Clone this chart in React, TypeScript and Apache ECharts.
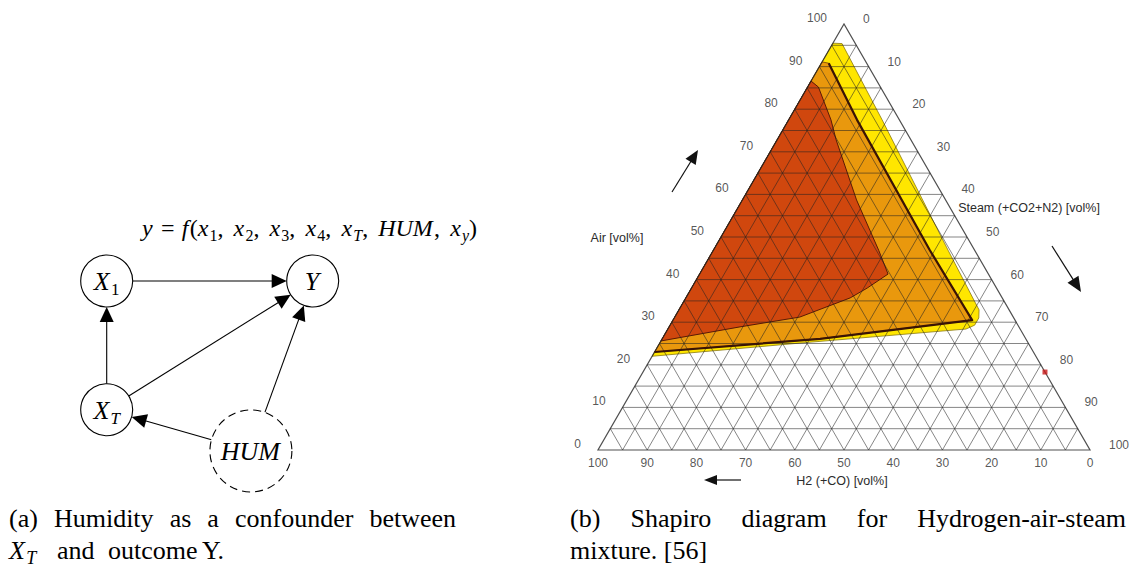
import React, { useEffect, useRef } from "react";
import * as echarts from "echarts";

const SERIF = "'Liberation Serif', 'Times New Roman', serif";
const SANS = "'Liberation Sans', Arial, sans-serif";

// ---------------- Panel (a): causal diagram (diagram units) ----------------
const dagNodes = [
  { id: "X1", x: 0, y: 0, dashed: false },
  { id: "Y", x: 4, y: 0, dashed: false },
  { id: "XT", x: 0, y: -2.5, dashed: false },
  { id: "HUM", x: 2.8, y: -3.3, dashed: true },
];
const dagEdges: [string, string][] = [
  ["X1", "Y"],
  ["XT", "X1"],
  ["XT", "Y"],
  ["HUM", "Y"],
  ["HUM", "XT"],
];
const nodeLabels: Record<string, [string, string][]> = {
  X1: [["X", "i"], ["1", "s"]],
  Y: [["Y", "i"]],
  XT: [["X", "i"], ["T", "si"]],
  HUM: [["HUM", "i"]],
};
const formulaTokens: [string, string][] = [
  ["y", "i"], ["=", "op"], ["f", "i"], ["(", "r"],
  ["x", "i"], ["1", "s"], [",", "c"],
  ["x", "i"], ["2", "s"], [",", "c"],
  ["x", "i"], ["3", "s"], [",", "c"],
  ["x", "i"], ["4", "s"], [",", "c"],
  ["x", "i"], ["T", "si"], [",", "c"],
  ["HUM", "i"], [",", "c"],
  ["x", "i"], ["y", "si"], [")", "r"],
];
const captionA1 = ["(a)", "Humidity", "as", "a", "confounder", "between"];
const captionA2 = ["and", "outcome", "Y."];
const captionB1 = ["(b)", "Shapiro", "diagram", "for", "Hydrogen-air-steam"];
const captionB2 = "mixture. [56]";

// ---------------- Panel (b): Shapiro ternary diagram ----------------
// points are [Air %, Steam %]; H2 = 100 - Air - Steam
const tickValues = [0, 10, 20, 30, 40, 50, 60, 70, 80, 90, 100];
const gridValues = [5, 10, 15, 20, 25, 30, 35, 40, 45, 50, 55, 60, 65, 70, 75, 80, 85, 90, 95];
const yellowRegion = [
  [95.5, 0], [95.4, 1.9], [77.5, 19.0], [46.9, 47.7], [35.2, 58.8], [32.9, 61.0],
  [31.0, 61.9], [29.3, 61.9], [28.4, 60.6], [25.1, 28.5], [22.0, 0],
];
const orangeRegion = [
  [91.1, 0], [90.8, 1.5], [77.5, 13.9], [46.9, 44.0], [30.5, 60.8], [26.1, 32.1], [23.0, 0],
];
const redRegion = [
  [86.6, 0], [85.2, 2.2], [77.5, 8.6], [72.8, 12.0], [58.7, 23.2], [46.9, 33.6], [41.3, 38.3],
  [38.0, 35.7], [35.7, 33.4], [31.2, 25.4], [28.9, 14.4], [25.6, 0],
];
const boundaryLine = [
  [90.8, 1.5], [77.5, 13.9], [46.9, 44.0], [30.5, 60.8], [26.1, 32.1], [23.0, 0],
];
const markerPoint = [18.3, 81.7];

const SQ = Math.sqrt(3) / 2;
const tern = (air: number, steam: number) => [steam / 100 + air / 200, (air / 100) * SQ];

export default function App() {
  const ref = useRef<HTMLDivElement>(null);
  useEffect(() => {
    document.body.style.margin = "0";
    const chart = echarts.init(ref.current!, undefined, { renderer: "svg" });
    const ctx = document.createElement("canvas").getContext("2d")!;

    const runMath = (toks: [string, string][], size: number, subSize: number, opSp = 0.28, commaSp = 0.17) => {
      let x = 0;
      const pieces: any[] = [];
      for (const [t, k] of toks) {
        const sub = k === "s" || k === "si";
        const italic = k === "i" || k === "si";
        const fs = sub ? subSize : size;
        const font = `${italic ? "italic " : ""}${fs}px ${SERIF}`;
        ctx.font = font;
        let pre = 0;
        let post = 0;
        if (k === "op") { pre = size * opSp; post = size * opSp; }
        if (k === "c") post = size * commaSp;
        x += pre;
        pieces.push({ t, font, fs, x, dy: sub ? size * 0.2 : 0 });
        x += ctx.measureText(t).width + post;
        if (italic && !sub) x += size * 0.05;
      }
      return { pieces, width: x };
    };
    const placeRun = (run: any, x0: number, baseline: number, fill = "#000") =>
      run.pieces.map((p: any) => ({
        type: "text",
        x: x0 + p.x,
        y: baseline + p.dy - 0.3 * p.fs,
        silent: true,
        style: { text: p.t, font: p.font, fill, align: "left", verticalAlign: "middle" },
      }));
    const textEl = (text: string, x: number, y: number, font: string, align = "left", fill = "#000") => ({
      type: "text", x, y, silent: true,
      style: { text, font, fill, align, verticalAlign: "middle" },
    });
    const justify = (words: string[], x0: number, x1: number, baseline: number, size: number) => {
      const font = `${size}px ${SERIF}`;
      ctx.font = font;
      const widths = words.map((w) => ctx.measureText(w).width);
      const total = widths.reduce((a, b) => a + b, 0);
      const gap = (x1 - x0 - total) / (words.length - 1);
      let x = x0;
      return words.map((w, i) => {
        const e = textEl(w, x, baseline - 0.3 * size, font);
        x += widths[i] + gap;
        return e;
      });
    };
    const arrow = (x1: number, y1: number, x2: number, y2: number, len: number, hw: number) => {
      const dx = x2 - x1, dy = y2 - y1, L = Math.hypot(dx, dy);
      const ux = dx / L, uy = dy / L;
      const bx = x2 - ux * len, by = y2 - uy * len;
      return [
        { type: "line", silent: true, shape: { x1, y1, x2: bx + ux, y2: by + uy }, style: { stroke: "#111", lineWidth: 1.2 } },
        { type: "polygon", silent: true, shape: { points: [[x2, y2], [bx - uy * hw, by + ux * hw], [bx + uy * hw, by - ux * hw]] }, style: { fill: "#111" } },
      ];
    };

    const CAP = 26;
    const nodeRadius = (id: string) => (dagNodes.find((n) => n.id === id)!.dashed ? 41 : 26);

    const polySeries = (pts: number[][], type: string, style: any, z: number) => ({
      type: "custom", xAxisIndex: 0, yAxisIndex: 0, z, silent: true,
      data: pts.map(([a, s]) => tern(a, s)),
      encode: { x: 0, y: 1 },
      renderItem: (params: any, api: any) => {
        if (params.dataIndex !== 0) return null;
        const points: number[][] = [];
        for (let i = 0; i < params.dataInsideLength; i++) points.push(api.coord([api.value(0, i), api.value(1, i)]));
        return { type, shape: { points }, style };
      },
    });

    const gridSegs: number[][] = [];
    gridValues.forEach((v) => {
      gridSegs.push([...tern(v, 0), ...tern(v, 100 - v)]);
      gridSegs.push([...tern(0, v), ...tern(100 - v, v)]);
      gridSegs.push([...tern(0, 100 - v), ...tern(100 - v, 0)]);
    });
    const borderPts = [[0, 0], [0, 100], [100, 0]];

    const labelSeries = (data: number[][], labelOpt: any) => ({
      type: "scatter", xAxisIndex: 0, yAxisIndex: 0, z: 10, silent: true,
      symbolSize: 1, itemStyle: { color: "transparent" },
      data,
      label: {
        show: true, position: "inside", formatter: (p: any) => String(p.value[2]),
        fontFamily: SANS, fontSize: 12, color: "#2b2b2b", ...labelOpt,
      },
    });

    const formulaRun = runMath(formulaTokens, 24, 16, 0.3, 0.42);
    const xtRun = runMath([["X", "i"], ["T", "si"]], CAP, 18);

    // caption (a) second line: X_T then words at their places
    const a2Start = [57, 108, 202];
    const capFont = `${CAP}px ${SERIF}`;

    const graphic: any[] = [
      ...placeRun(formulaRun, 142, 235),
      ...justify(captionA1, 9, 456, 526, CAP),
      ...placeRun(xtRun, 9, 558),
      ...captionA2.map((w, i) => textEl(w, a2Start[i], 558 - 0.3 * CAP, capFont)),
      ...justify(captionB1, 570, 1126, 526, CAP),
      textEl(captionB2, 570, 558 - 0.3 * CAP, capFont),
      textEl("Air [vol%]", 617, 238, `12.5px ${SANS}`, "center", "#2b2b2b"),
      textEl("Steam (+CO2+N2) [vol%]", 1029, 208, `12.5px ${SANS}`, "center", "#2b2b2b"),
      textEl("H2 (+CO) [vol%]", 842, 481, `12.5px ${SANS}`, "center", "#2b2b2b"),
      ...arrow(672, 192, 698, 150, 14, 6),
      ...arrow(1052, 246, 1081, 292, 15, 6.5),
      ...arrow(741, 480, 704, 480, 13, 5),
    ];

    const option: any = {
      animation: false,
      grid: [
        { left: 598, top: 24, width: 492, height: 426 },
        { left: 55.2, top: 229.5, width: 412, height: 257.5 },
      ],
      xAxis: [
        { gridIndex: 0, type: "value", min: 0, max: 1, show: false },
        { gridIndex: 1, type: "value", min: -1, max: 7, show: false },
      ],
      yAxis: [
        { gridIndex: 0, type: "value", min: 0, max: SQ, show: false },
        { gridIndex: 1, type: "value", min: -4, max: 1, show: false },
      ],
      series: [
        polySeries(yellowRegion, "polygon", { fill: "#FFE600", stroke: "#8a7a10", lineWidth: 0.8 }, 1),
        polySeries(orangeRegion, "polygon", { fill: "#E9980D", stroke: "#7a3a05", lineWidth: 0.8 }, 2),
        polySeries(redRegion, "polygon", { fill: "#D0470E", stroke: "#5a1a05", lineWidth: 1 }, 3),
        {
          type: "custom", xAxisIndex: 0, yAxisIndex: 0, z: 5, silent: true,
          data: gridSegs, encode: { x: [0, 2], y: [1, 3] },
          renderItem: (params: any, api: any) => {
            const p1 = api.coord([api.value(0), api.value(1)]);
            const p2 = api.coord([api.value(2), api.value(3)]);
            return { type: "line", shape: { x1: p1[0], y1: p1[1], x2: p2[0], y2: p2[1] }, style: { stroke: "rgba(35,35,35,0.55)", lineWidth: 1 } };
          },
        },
        polySeries(borderPts, "polygon", { fill: "none", stroke: "rgba(35,35,35,0.8)", lineWidth: 1.2 }, 6),
        polySeries(boundaryLine, "polyline", { fill: "none", stroke: "#3a1405", lineWidth: 2.2, lineJoin: "round" }, 7),
        labelSeries(tickValues.map((v) => [...tern(0, 100 - v), v]), { offset: [0, 13] }),
        labelSeries(tickValues.map((v) => [...tern(v, 0), v]), { align: "right", offset: [-17, -6] }),
        labelSeries(tickValues.map((v) => [...tern(100 - v, v), v]), { align: "left", offset: [19, -5] }),
        {
          type: "scatter", xAxisIndex: 0, yAxisIndex: 0, z: 9, silent: true,
          symbol: "rect", symbolSize: 5, itemStyle: { color: "#c81818" },
          data: [tern(markerPoint[0], markerPoint[1])],
        },
        {
          type: "custom", xAxisIndex: 1, yAxisIndex: 1, z: 5, silent: true,
          data: dagEdges.map(([a, b]) => {
            const A = dagNodes.find((n) => n.id === a)!;
            const B = dagNodes.find((n) => n.id === b)!;
            return [A.x, A.y, B.x, B.y];
          }),
          encode: { x: [0, 2], y: [1, 3] },
          renderItem: (params: any, api: any) => {
            const [a, b] = dagEdges[params.dataIndex];
            const p1 = api.coord([api.value(0), api.value(1)]);
            const p2 = api.coord([api.value(2), api.value(3)]);
            const dx = p2[0] - p1[0], dy = p2[1] - p1[1], L = Math.hypot(dx, dy);
            const ux = dx / L, uy = dy / L;
            const r1 = nodeRadius(a), r2 = nodeRadius(b);
            const sx = p1[0] + ux * r1, sy = p1[1] + uy * r1;
            const tx = p2[0] - ux * r2, ty = p2[1] - uy * r2;
            const hl = 15, hw = 7;
            const bx = tx - ux * hl, by = ty - uy * hl;
            return {
              type: "group",
              children: [
                { type: "line", shape: { x1: sx, y1: sy, x2: bx + ux, y2: by + uy }, style: { stroke: "#000", lineWidth: 1.1 } },
                { type: "polygon", shape: { points: [[tx, ty], [bx - uy * hw, by + ux * hw], [bx + uy * hw, by - ux * hw]] }, style: { fill: "#000" } },
              ],
            };
          },
        },
        {
          type: "custom", xAxisIndex: 1, yAxisIndex: 1, z: 6, silent: true,
          data: dagNodes.map((n) => [n.x, n.y]),
          encode: { x: 0, y: 1 },
          renderItem: (params: any, api: any) => {
            const n = dagNodes[params.dataIndex];
            const c = api.coord([api.value(0), api.value(1)]);
            const r = nodeRadius(n.id);
            const run = runMath(nodeLabels[n.id], 26, 17);
            return {
              type: "group",
              children: [
                {
                  type: "circle", shape: { cx: c[0], cy: c[1], r },
                  style: { fill: "#fff", stroke: "#000", lineWidth: 1.1, lineDash: n.dashed ? [8, 5] : null },
                },
                ...placeRun(run, c[0] - run.width / 2, c[1] + 8.5),
              ],
            };
          },
        },
      ],
      graphic,
    };
    chart.setOption(option);
    return () => chart.dispose();
  }, []);
  return (
    <div
      ref={ref}
      style={{ position: "absolute", left: 0, top: 0, width: 1134, height: 569, background: "#fff" }}
    />
  );
}
